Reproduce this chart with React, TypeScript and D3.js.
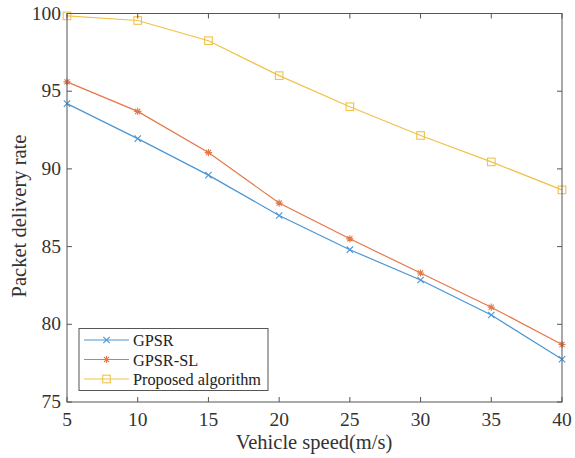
import React, { useEffect, useRef } from 'react';
import * as d3 from 'd3';

const speeds = [5, 10, 15, 20, 25, 30, 35, 40];
const gpsr = [94.2, 91.95, 89.6, 87.0, 84.8, 82.85, 80.6, 77.75];
const gpsrSL = [95.6, 93.7, 91.05, 87.8, 85.5, 83.3, 81.1, 78.7];
const proposed = [99.85, 99.55, 98.25, 96.0, 94.0, 92.15, 90.45, 88.65];
const xTicks = [5, 10, 15, 20, 25, 30, 35, 40];
const yTicks = [75, 80, 85, 90, 95, 100];

const seriesNames = ['GPSR', 'GPSR-SL', 'Proposed algorithm'];
const seriesColors = ['#4a95d4', '#e57748', '#f0c24a'];
const seriesMarkers = ['x', 'star', 'square'];

const W = 575;
const H = 458;
const FONT = '"Liberation Serif", "Times New Roman", serif';

function drawMarker(g: any, kind: string, x: number, y: number, color: string) {
  if (kind === 'x') {
    const s = 3.2;
    g.append('path')
      .attr('d', `M${x - s},${y - s}L${x + s},${y + s}M${x - s},${y + s}L${x + s},${y - s}`)
      .attr('stroke', color).attr('stroke-width', 1.1).attr('fill', 'none');
  } else if (kind === 'star') {
    const s = 3.6;
    const d = s * 0.72;
    g.append('path')
      .attr('d', `M${x - s},${y}L${x + s},${y}M${x},${y - s}L${x},${y + s}` +
        `M${x - d},${y - d}L${x + d},${y + d}M${x - d},${y + d}L${x + d},${y - d}`)
      .attr('stroke', color).attr('stroke-width', 1.1).attr('fill', 'none');
  } else {
    const s = 3.8;
    g.append('rect')
      .attr('x', x - s).attr('y', y - s).attr('width', 2 * s).attr('height', 2 * s)
      .attr('stroke', color).attr('stroke-width', 1.1).attr('fill', 'none');
  }
}

export default function App() {
  const ref = useRef<SVGSVGElement>(null);

  useEffect(() => {
    const svg = d3.select(ref.current);
    svg.selectAll('*').remove();

    const left = 67, right = 562, top = 13.5, bottom = 402;
    const x = d3.scaleLinear().domain([5, 40]).range([left, right]);
    const y = d3.scaleLinear().domain([75, 100]).range([bottom, top]);
    const axisColor = '#555';

    svg.append('rect').attr('width', W).attr('height', H).attr('fill', '#fff');

    const allSeries = [gpsr, gpsrSL, proposed];
    const line = d3.line<number>()
      .x((_, i) => x(speeds[i]))
      .y((d) => y(d));

    allSeries.forEach((vals, k) => {
      svg.append('path')
        .datum(vals)
        .attr('d', line)
        .attr('fill', 'none')
        .attr('stroke', seriesColors[k])
        .attr('stroke-width', 1.2);
      const mg = svg.append('g');
      vals.forEach((v, i) => drawMarker(mg, seriesMarkers[k], x(speeds[i]), y(v), seriesColors[k]));
    });

    // box + inward ticks on all sides
    const ax = svg.append('g').attr('stroke', axisColor).attr('stroke-width', 1);
    ax.append('rect')
      .attr('x', left).attr('y', top).attr('width', right - left).attr('height', bottom - top)
      .attr('fill', 'none');
    const tl = 5;
    xTicks.forEach((t) => {
      ax.append('line').attr('x1', x(t)).attr('x2', x(t)).attr('y1', bottom).attr('y2', bottom - tl);
      ax.append('line').attr('x1', x(t)).attr('x2', x(t)).attr('y1', top).attr('y2', top + tl);
    });
    yTicks.forEach((t) => {
      ax.append('line').attr('x1', left).attr('x2', left + tl).attr('y1', y(t)).attr('y2', y(t));
      ax.append('line').attr('x1', right).attr('x2', right - tl).attr('y1', y(t)).attr('y2', y(t));
    });

    const txt = svg.append('g').attr('font-family', FONT).attr('fill', '#333');
    xTicks.forEach((t) => {
      txt.append('text').attr('x', x(t)).attr('y', 426)
        .attr('text-anchor', 'middle').attr('font-size', 19.5).text(t);
    });
    yTicks.forEach((t) => {
      txt.append('text').attr('x', left - 6).attr('y', y(t) + 6)
        .attr('text-anchor', 'end').attr('font-size', 19.5).text(t);
    });
    txt.append('text').attr('x', 314).attr('y', 449)
      .attr('text-anchor', 'middle').attr('font-size', 20.5).text('Vehicle speed(m/s)');
    txt.append('text')
      .attr('transform', `translate(26,216) rotate(-90)`)
      .attr('text-anchor', 'middle').attr('font-size', 20.5).text('Packet delivery rate');

    // legend
    const lg = svg.append('g');
    lg.append('rect').attr('x', 79).attr('y', 328.5).attr('width', 189).attr('height', 62)
      .attr('fill', '#fff').attr('stroke', axisColor).attr('stroke-width', 1);
    seriesNames.forEach((name, k) => {
      const ly = 340 + k * 19.5;
      lg.append('line').attr('x1', 84).attr('x2', 129).attr('y1', ly).attr('y2', ly)
        .attr('stroke', seriesColors[k]).attr('stroke-width', 1.2);
      drawMarker(lg, seriesMarkers[k], 106.5, ly, seriesColors[k]);
      lg.append('text').attr('x', 133).attr('y', ly + 6)
        .attr('font-family', FONT).attr('font-size', 16.3).attr('fill', '#222').text(name);
    });
  }, []);

  return (
    <svg ref={ref} width={W} height={H}
      style={{ position: 'absolute', left: 0, top: 0, display: 'block' }} />
  );
}
